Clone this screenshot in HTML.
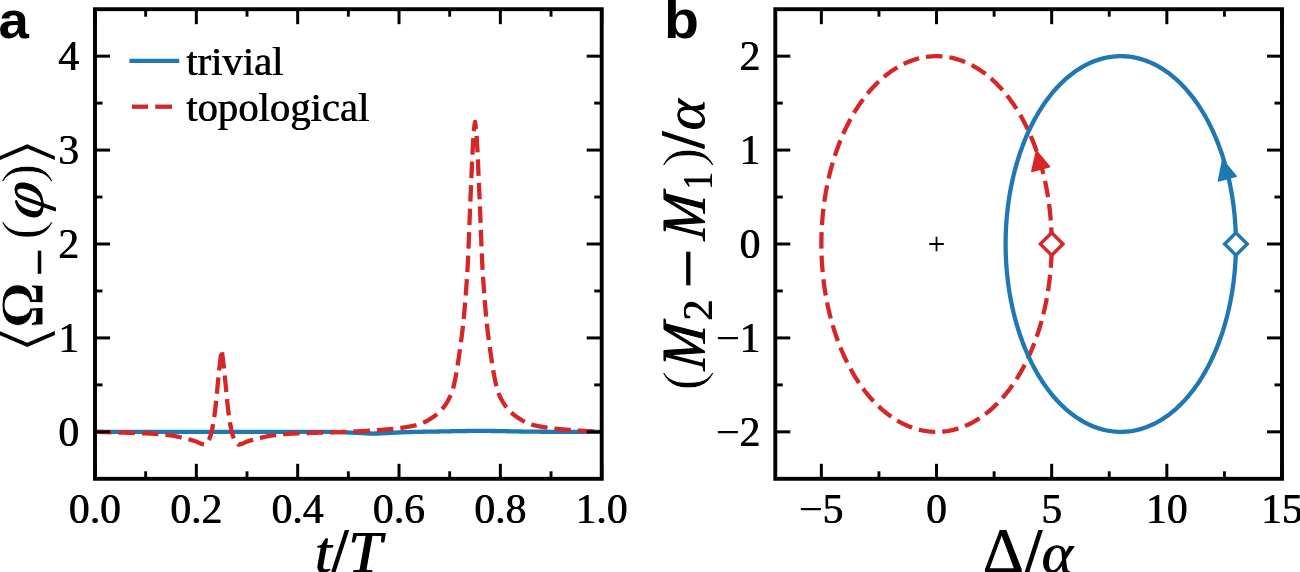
<!DOCTYPE html>
<html><head><meta charset="utf-8"><title>figure</title>
<style>html,body{margin:0;padding:0;background:#fff;overflow:hidden}svg{display:block;will-change:transform;opacity:0.999}text{fill:#000}</style>
</head><body>
<svg width="1300" height="572" viewBox="0 0 1300 572">
<rect width="1300" height="572" fill="#fff"/>
<defs><clipPath id="ca"><rect x="95.0" y="9.2" width="506.70000000000005" height="469.6"/></clipPath></defs>
<g clip-path="url(#ca)">
<path d="M95.00,431.84 L97.55,431.84 L100.09,431.84 L102.64,431.84 L105.18,431.84 L107.73,431.84 L110.28,431.84 L112.82,431.84 L115.37,431.84 L117.92,431.84 L120.46,431.84 L123.01,431.84 L125.55,431.84 L128.10,431.84 L130.65,431.84 L133.19,431.84 L135.74,431.84 L138.29,431.84 L140.83,431.84 L143.38,431.84 L145.92,431.84 L148.47,431.84 L151.02,431.84 L153.56,431.84 L156.11,431.84 L158.66,431.84 L161.20,431.84 L163.75,431.84 L166.29,431.84 L168.84,431.84 L171.39,431.84 L173.93,431.84 L176.48,431.84 L179.03,431.84 L181.57,431.84 L184.12,431.84 L186.66,431.84 L189.21,431.84 L191.76,431.84 L194.30,431.84 L196.85,431.84 L199.40,431.84 L201.94,431.84 L204.49,431.84 L207.03,431.84 L209.58,431.84 L212.13,431.84 L214.67,431.84 L217.22,431.84 L219.77,431.84 L222.31,431.84 L224.86,431.84 L227.40,431.84 L229.95,431.84 L232.50,431.84 L235.04,431.84 L237.59,431.84 L240.14,431.84 L242.68,431.84 L245.23,431.84 L247.77,431.84 L250.32,431.84 L252.87,431.84 L255.41,431.84 L257.96,431.84 L260.51,431.84 L263.05,431.84 L265.60,431.84 L268.14,431.84 L270.69,431.84 L273.24,431.84 L275.78,431.84 L278.33,431.84 L280.87,431.84 L283.42,431.84 L285.97,431.84 L288.51,431.84 L291.06,431.84 L293.61,431.84 L296.15,431.84 L298.70,431.84 L301.24,431.84 L303.79,431.84 L306.34,431.84 L308.88,431.84 L311.43,431.84 L313.98,431.85 L316.52,431.85 L319.07,431.86 L321.61,431.86 L324.16,431.88 L326.71,431.89 L329.25,431.92 L331.80,431.95 L334.35,431.99 L336.89,432.05 L339.44,432.11 L341.98,432.19 L344.53,432.29 L347.08,432.40 L349.62,432.53 L352.17,432.66 L354.72,432.81 L357.26,432.95 L359.81,433.09 L362.35,433.22 L364.90,433.34 L367.45,433.43 L369.99,433.49 L372.54,433.53 L375.09,433.52 L377.63,433.49 L380.18,433.42 L382.72,433.33 L385.27,433.21 L387.82,433.07 L390.36,432.93 L392.91,432.78 L395.46,432.64 L398.00,432.50 L400.55,432.37 L403.09,432.25 L405.64,432.15 L408.19,432.06 L410.73,431.99 L413.28,431.92 L415.83,431.87 L418.37,431.82 L420.92,431.78 L423.46,431.74 L426.01,431.71 L428.56,431.67 L431.10,431.63 L433.65,431.59 L436.19,431.55 L438.74,431.51 L441.29,431.47 L443.83,431.42 L446.38,431.37 L448.93,431.32 L451.47,431.27 L454.02,431.22 L456.56,431.17 L459.11,431.12 L461.66,431.08 L464.20,431.03 L466.75,431.00 L469.30,430.97 L471.84,430.94 L474.39,430.92 L476.93,430.91 L479.48,430.90 L482.03,430.90 L484.57,430.91 L487.12,430.93 L489.67,430.95 L492.21,430.98 L494.76,431.02 L497.30,431.06 L499.85,431.10 L502.40,431.15 L504.94,431.20 L507.49,431.25 L510.04,431.30 L512.58,431.35 L515.13,431.40 L517.67,431.44 L520.22,431.49 L522.77,431.53 L525.31,431.57 L527.86,431.61 L530.41,431.64 L532.95,431.67 L535.50,431.69 L538.04,431.72 L540.59,431.74 L543.14,431.76 L545.68,431.77 L548.23,431.78 L550.78,431.80 L553.32,431.80 L555.87,431.81 L558.41,431.82 L560.96,431.82 L563.51,431.83 L566.05,431.83 L568.60,431.83 L571.15,431.83 L573.69,431.84 L576.24,431.84 L578.78,431.84 L581.33,431.84 L583.88,431.84 L586.42,431.84 L588.97,431.84 L591.52,431.84 L594.06,431.84 L596.61,431.84 L599.15,431.84 L601.70,431.84" fill="none" stroke="#1f77b4" stroke-width="4.3" stroke-linejoin="round"/>
<path d="M95.00,431.84 L95.50,431.85 L96.00,431.86 L96.50,431.87 L97.00,431.89 L97.50,431.90 L98.00,431.91 L98.50,431.92 L99.01,431.94 L99.51,431.95 L100.01,431.96 L100.51,431.98 L101.01,431.99 L101.51,432.00 L102.01,432.02 L102.51,432.03 L103.01,432.04 L103.51,432.06 L104.01,432.07 L104.51,432.08 L105.01,432.10 L105.51,432.11 L106.02,432.12 L106.52,432.14 L107.02,432.15 L107.52,432.17 L108.02,432.18 L108.52,432.19 L109.02,432.21 L109.52,432.22 L110.02,432.24 L110.52,432.25 L111.02,432.27 L111.52,432.28 L112.02,432.30 L112.52,432.31 L113.02,432.33 L113.53,432.34 L114.03,432.36 L114.53,432.37 L115.03,432.39 L115.53,432.40 L116.03,432.42 L116.53,432.43 L117.03,432.45 L117.53,432.46 L118.03,432.48 L118.53,432.49 L119.03,432.51 L119.53,432.52 L120.03,432.54 L120.54,432.56 L121.04,432.57 L121.54,432.59 L122.04,432.60 L122.54,432.62 L123.04,432.63 L123.54,432.65 L124.04,432.67 L124.54,432.68 L125.04,432.70 L125.54,432.71 L126.04,432.73 L126.54,432.74 L127.04,432.76 L127.54,432.77 L128.05,432.79 L128.55,432.80 L129.05,432.82 L129.55,432.83 L130.05,432.85 L130.55,432.86 L131.05,432.88 L131.55,432.89 L132.05,432.91 L132.55,432.92 L133.05,432.94 L133.55,432.95 L134.05,432.97 L134.55,432.98 L135.06,433.00 L135.56,433.01 L136.06,433.03 L136.56,433.05 L137.06,433.06 L137.56,433.08 L138.06,433.10 L138.56,433.11 L139.06,433.13 L139.56,433.15 L140.06,433.17 L140.56,433.18 L141.06,433.20 L141.56,433.22 L142.07,433.24 L142.57,433.26 L143.07,433.28 L143.57,433.30 L144.07,433.32 L144.57,433.34 L145.07,433.36 L145.57,433.38 L146.07,433.40 L146.57,433.42 L147.07,433.44 L147.57,433.46 L148.07,433.49 L148.57,433.51 L149.07,433.53 L149.58,433.56 L150.08,433.58 L150.58,433.61 L151.08,433.63 L151.58,433.66 L152.08,433.69 L152.58,433.71 L153.08,433.74 L153.58,433.77 L154.08,433.80 L154.58,433.83 L155.08,433.86 L155.58,433.90 L156.08,433.93 L156.59,433.97 L157.09,434.00 L157.59,434.04 L158.09,434.08 L158.59,434.12 L159.09,434.16 L159.59,434.20 L160.09,434.25 L160.59,434.29 L161.09,434.34 L161.59,434.38 L162.09,434.43 L162.59,434.48 L163.09,434.53 L163.59,434.58 L164.10,434.63 L164.60,434.69 L165.10,434.74 L165.60,434.79 L166.10,434.85 L166.60,434.91 L167.10,434.97 L167.60,435.02 L168.10,435.08 L168.60,435.15 L169.10,435.21 L169.60,435.27 L170.10,435.33 L170.60,435.40 L171.11,435.47 L171.61,435.54 L172.11,435.61 L172.61,435.69 L173.11,435.78 L173.61,435.86 L174.11,435.95 L174.61,436.05 L175.11,436.14 L175.61,436.24 L176.11,436.34 L176.61,436.45 L177.11,436.55 L177.61,436.66 L178.11,436.77 L178.62,436.88 L179.12,436.99 L179.62,437.10 L180.12,437.22 L180.62,437.33 L181.12,437.45 L181.62,437.56 L182.12,437.68 L182.62,437.80 L183.12,437.91 L183.62,438.03 L184.12,438.14 L184.62,438.26 L185.12,438.38 L185.63,438.50 L186.13,438.62 L186.63,438.75 L187.13,438.87 L187.63,439.00 L188.13,439.13 L188.63,439.26 L189.13,439.40 L189.63,439.53 L190.13,439.67 L190.63,439.81 L191.13,439.95 L191.63,440.09 L192.13,440.24 L192.63,440.38 L193.14,440.53 L193.64,440.69 L194.14,440.84 L194.64,441.00 L195.14,441.17 L195.64,441.33 L196.14,441.51 L196.64,441.69 L197.14,441.88 L197.64,442.10 L198.14,442.33 L198.64,442.57 L199.14,442.82 L199.64,443.06 L200.15,443.29 L200.65,443.50 L201.15,443.69 L201.65,443.85 L202.15,444.00 L202.65,444.15 L203.15,444.29 L203.65,444.41 L204.15,444.49 L204.65,444.52 L205.15,444.42 L205.65,444.13 L206.15,443.70 L206.65,443.20 L207.15,442.66 L207.66,442.06 L208.16,441.29 L208.66,440.39 L209.16,439.36 L209.66,438.21 L210.16,436.86 L210.66,435.26 L211.16,433.43 L211.66,431.41 L212.16,429.21 L212.66,426.80 L213.16,424.04 L213.66,420.95 L214.16,417.56 L214.67,413.91 L215.17,410.04 L215.67,405.84 L216.17,400.94 L216.67,395.63 L217.17,390.29 L217.67,385.15 L218.17,379.92 L218.67,374.75 L219.17,369.84 L219.67,365.38 L220.17,361.28 L220.67,357.34 L221.17,353.44 L221.68,349.66 L222.18,353.44 L222.68,357.34 L223.18,361.28 L223.68,365.38 L224.18,369.84 L224.68,374.75 L225.18,379.92 L225.68,385.15 L226.18,390.29 L226.68,395.63 L227.18,400.94 L227.68,405.84 L228.18,410.04 L228.68,413.91 L229.19,417.56 L229.69,420.95 L230.19,424.04 L230.69,426.80 L231.19,429.21 L231.69,431.41 L232.19,433.43 L232.69,435.26 L233.19,436.86 L233.69,438.21 L234.19,439.36 L234.69,440.39 L235.19,441.29 L235.69,442.06 L236.20,442.66 L236.70,443.20 L237.20,443.70 L237.70,444.13 L238.20,444.42 L238.70,444.52 L239.20,444.49 L239.70,444.41 L240.20,444.29 L240.70,444.15 L241.20,444.00 L241.70,443.85 L242.20,443.69 L242.70,443.50 L243.20,443.29 L243.71,443.06 L244.21,442.82 L244.71,442.57 L245.21,442.33 L245.71,442.10 L246.21,441.88 L246.71,441.69 L247.21,441.51 L247.71,441.33 L248.21,441.17 L248.71,441.00 L249.21,440.84 L249.71,440.69 L250.21,440.53 L250.72,440.38 L251.22,440.24 L251.72,440.09 L252.22,439.95 L252.72,439.81 L253.22,439.67 L253.72,439.53 L254.22,439.40 L254.72,439.26 L255.22,439.13 L255.72,439.00 L256.22,438.87 L256.72,438.75 L257.22,438.62 L257.72,438.50 L258.23,438.38 L258.73,438.26 L259.23,438.14 L259.73,438.03 L260.23,437.91 L260.73,437.80 L261.23,437.68 L261.73,437.56 L262.23,437.45 L262.73,437.33 L263.23,437.22 L263.73,437.10 L264.23,436.99 L264.73,436.88 L265.24,436.77 L265.74,436.66 L266.24,436.55 L266.74,436.45 L267.24,436.34 L267.74,436.24 L268.24,436.14 L268.74,436.05 L269.24,435.95 L269.74,435.86 L270.24,435.78 L270.74,435.69 L271.24,435.61 L271.74,435.54 L272.24,435.47 L272.75,435.40 L273.25,435.33 L273.75,435.27 L274.25,435.21 L274.75,435.15 L275.25,435.08 L275.75,435.02 L276.25,434.97 L276.75,434.91 L277.25,434.85 L277.75,434.79 L278.25,434.74 L278.75,434.69 L279.25,434.63 L279.76,434.58 L280.26,434.53 L280.76,434.48 L281.26,434.43 L281.76,434.38 L282.26,434.34 L282.76,434.29 L283.26,434.25 L283.76,434.20 L284.26,434.16 L284.76,434.12 L285.26,434.08 L285.76,434.04 L286.26,434.00 L286.76,433.97 L287.27,433.93 L287.77,433.90 L288.27,433.86 L288.77,433.83 L289.27,433.80 L289.77,433.77 L290.27,433.74 L290.77,433.71 L291.27,433.69 L291.77,433.66 L292.27,433.63 L292.77,433.61 L293.27,433.58 L293.77,433.56 L294.28,433.53 L294.78,433.51 L295.28,433.49 L295.78,433.46 L296.28,433.44 L296.78,433.42 L297.28,433.40 L297.78,433.38 L298.28,433.36 L298.78,433.34 L299.28,433.32 L299.78,433.30 L300.28,433.28 L300.78,433.26 L301.28,433.24 L301.79,433.22 L302.29,433.20 L302.79,433.18 L303.29,433.17 L303.79,433.15 L304.29,433.13 L304.79,433.11 L305.29,433.10 L305.79,433.08 L306.29,433.06 L306.79,433.05 L307.29,433.03 L307.79,433.01 L308.29,433.00 L308.80,432.98 L309.30,432.97 L309.80,432.95 L310.30,432.94 L310.80,432.92 L311.30,432.91 L311.80,432.89 L312.30,432.88 L312.80,432.86 L313.30,432.85 L313.80,432.83 L314.30,432.82 L314.80,432.80 L315.30,432.79 L315.81,432.77 L316.31,432.76 L316.81,432.74 L317.31,432.73 L317.81,432.71 L318.31,432.70 L318.81,432.68 L319.31,432.67 L319.81,432.65 L320.31,432.63 L320.81,432.62 L321.31,432.60 L321.81,432.59 L322.31,432.57 L322.81,432.56 L323.32,432.54 L323.82,432.52 L324.32,432.51 L324.82,432.49 L325.32,432.48 L325.82,432.46 L326.32,432.45 L326.82,432.43 L327.32,432.42 L327.82,432.40 L328.32,432.39 L328.82,432.37 L329.32,432.36 L329.82,432.34 L330.33,432.33 L330.83,432.31 L331.33,432.30 L331.83,432.28 L332.33,432.27 L332.83,432.25 L333.33,432.24 L333.83,432.22 L334.33,432.21 L334.83,432.19 L335.33,432.18 L335.83,432.17 L336.33,432.15 L336.83,432.14 L337.33,432.12 L337.84,432.11 L338.34,432.10 L338.84,432.08 L339.34,432.07 L339.84,432.06 L340.34,432.04 L340.84,432.03 L341.34,432.02 L341.84,432.00 L342.34,431.99 L342.84,431.98 L343.34,431.96 L343.84,431.95 L344.34,431.94 L344.85,431.92 L345.35,431.91 L345.85,431.90 L346.35,431.89 L346.85,431.87 L347.35,431.86 L347.85,431.85 L348.35,431.84 L348.85,431.55 L349.35,431.55 L349.85,431.54 L350.35,431.53 L350.85,431.52 L351.35,431.51 L351.85,431.49 L352.36,431.48 L352.86,431.47 L353.36,431.45 L353.86,431.44 L354.36,431.42 L354.86,431.41 L355.36,431.39 L355.86,431.37 L356.36,431.36 L356.86,431.34 L357.36,431.32 L357.86,431.30 L358.36,431.28 L358.86,431.26 L359.37,431.23 L359.87,431.21 L360.37,431.19 L360.87,431.16 L361.37,431.14 L361.87,431.12 L362.37,431.09 L362.87,431.07 L363.37,431.04 L363.87,431.01 L364.37,430.99 L364.87,430.96 L365.37,430.93 L365.87,430.90 L366.37,430.87 L366.88,430.84 L367.38,430.81 L367.88,430.78 L368.38,430.75 L368.88,430.72 L369.38,430.69 L369.88,430.66 L370.38,430.63 L370.88,430.59 L371.38,430.56 L371.88,430.53 L372.38,430.50 L372.88,430.46 L373.38,430.43 L373.89,430.39 L374.39,430.36 L374.89,430.33 L375.39,430.29 L375.89,430.26 L376.39,430.22 L376.89,430.19 L377.39,430.15 L377.89,430.11 L378.39,430.08 L378.89,430.04 L379.39,430.01 L379.89,429.97 L380.39,429.93 L380.89,429.90 L381.40,429.86 L381.90,429.82 L382.40,429.79 L382.90,429.75 L383.40,429.71 L383.90,429.67 L384.40,429.63 L384.90,429.59 L385.40,429.55 L385.90,429.51 L386.40,429.46 L386.90,429.42 L387.40,429.38 L387.90,429.33 L388.41,429.29 L388.91,429.24 L389.41,429.20 L389.91,429.15 L390.41,429.10 L390.91,429.05 L391.41,429.00 L391.91,428.95 L392.41,428.90 L392.91,428.85 L393.41,428.80 L393.91,428.75 L394.41,428.69 L394.91,428.64 L395.42,428.58 L395.92,428.52 L396.42,428.47 L396.92,428.41 L397.42,428.35 L397.92,428.29 L398.42,428.22 L398.92,428.16 L399.42,428.10 L399.92,428.03 L400.42,427.96 L400.92,427.90 L401.42,427.83 L401.92,427.76 L402.42,427.69 L402.93,427.61 L403.43,427.54 L403.93,427.47 L404.43,427.39 L404.93,427.31 L405.43,427.23 L405.93,427.15 L406.43,427.07 L406.93,426.99 L407.43,426.91 L407.93,426.82 L408.43,426.73 L408.93,426.65 L409.43,426.56 L409.94,426.47 L410.44,426.37 L410.94,426.28 L411.44,426.18 L411.94,426.09 L412.44,425.99 L412.94,425.89 L413.44,425.79 L413.94,425.68 L414.44,425.58 L414.94,425.47 L415.44,425.36 L415.94,425.24 L416.44,425.12 L416.94,424.98 L417.45,424.84 L417.95,424.70 L418.45,424.54 L418.95,424.38 L419.45,424.21 L419.95,424.03 L420.45,423.85 L420.95,423.66 L421.45,423.46 L421.95,423.25 L422.45,423.04 L422.95,422.82 L423.45,422.60 L423.95,422.37 L424.46,422.13 L424.96,421.88 L425.46,421.63 L425.96,421.37 L426.46,421.11 L426.96,420.84 L427.46,420.56 L427.96,420.28 L428.46,419.99 L428.96,419.70 L429.46,419.40 L429.96,419.09 L430.46,418.78 L430.96,418.46 L431.46,418.14 L431.97,417.81 L432.47,417.48 L432.97,417.14 L433.47,416.79 L433.97,416.44 L434.47,416.09 L434.97,415.73 L435.47,415.36 L435.97,414.98 L436.47,414.59 L436.97,414.19 L437.47,413.78 L437.97,413.35 L438.47,412.91 L438.98,412.45 L439.48,411.98 L439.98,411.48 L440.48,410.98 L440.98,410.45 L441.48,409.90 L441.98,409.33 L442.48,408.74 L442.98,408.13 L443.48,407.49 L443.98,406.83 L444.48,406.15 L444.98,405.44 L445.48,404.70 L445.98,403.93 L446.49,403.14 L446.99,402.32 L447.49,401.46 L447.99,400.58 L448.49,399.66 L448.99,398.71 L449.49,397.73 L449.99,396.71 L450.49,395.66 L450.99,394.57 L451.49,393.40 L451.99,392.03 L452.49,390.48 L452.99,388.75 L453.50,386.83 L454.00,384.75 L454.50,382.51 L455.00,380.11 L455.50,377.56 L456.00,374.88 L456.50,372.06 L457.00,369.11 L457.50,366.04 L458.00,362.86 L458.50,359.58 L459.00,356.20 L459.50,352.72 L460.00,349.17 L460.50,345.53 L461.01,341.83 L461.51,338.06 L462.01,334.14 L462.51,329.93 L463.01,325.44 L463.51,320.63 L464.01,315.49 L464.51,310.01 L465.01,304.18 L465.51,297.98 L466.01,291.39 L466.51,284.40 L467.01,276.99 L467.51,269.01 L468.02,259.13 L468.52,247.56 L469.02,234.97 L469.52,221.99 L470.02,209.28 L470.52,197.48 L471.02,186.42 L471.52,174.88 L472.02,163.38 L472.52,152.51 L473.02,142.84 L473.52,134.95 L474.02,129.27 L474.52,124.93 L475.03,121.90 L475.53,124.93 L476.03,129.27 L476.53,134.95 L477.03,142.84 L477.53,152.51 L478.03,163.38 L478.53,174.88 L479.03,186.42 L479.53,197.48 L480.03,209.28 L480.53,221.99 L481.03,234.97 L481.53,247.56 L482.03,259.13 L482.54,269.01 L483.04,276.99 L483.54,284.40 L484.04,291.39 L484.54,297.98 L485.04,304.18 L485.54,310.01 L486.04,315.49 L486.54,320.63 L487.04,325.44 L487.54,329.93 L488.04,334.14 L488.54,338.06 L489.04,341.83 L489.55,345.53 L490.05,349.17 L490.55,352.72 L491.05,356.20 L491.55,359.58 L492.05,362.86 L492.55,366.04 L493.05,369.11 L493.55,372.06 L494.05,374.88 L494.55,377.56 L495.05,380.11 L495.55,382.51 L496.05,384.75 L496.55,386.83 L497.06,388.75 L497.56,390.48 L498.06,392.03 L498.56,393.40 L499.06,394.57 L499.56,395.66 L500.06,396.71 L500.56,397.73 L501.06,398.71 L501.56,399.66 L502.06,400.58 L502.56,401.46 L503.06,402.32 L503.56,403.14 L504.07,403.93 L504.57,404.70 L505.07,405.44 L505.57,406.15 L506.07,406.83 L506.57,407.49 L507.07,408.13 L507.57,408.74 L508.07,409.33 L508.57,409.90 L509.07,410.45 L509.57,410.98 L510.07,411.48 L510.57,411.98 L511.07,412.45 L511.58,412.91 L512.08,413.35 L512.58,413.78 L513.08,414.19 L513.58,414.59 L514.08,414.98 L514.58,415.36 L515.08,415.73 L515.58,416.09 L516.08,416.44 L516.58,416.79 L517.08,417.14 L517.58,417.48 L518.08,417.81 L518.59,418.14 L519.09,418.46 L519.59,418.78 L520.09,419.09 L520.59,419.40 L521.09,419.70 L521.59,419.99 L522.09,420.28 L522.59,420.56 L523.09,420.84 L523.59,421.11 L524.09,421.37 L524.59,421.63 L525.09,421.88 L525.59,422.13 L526.10,422.37 L526.60,422.60 L527.10,422.82 L527.60,423.04 L528.10,423.25 L528.60,423.46 L529.10,423.66 L529.60,423.85 L530.10,424.03 L530.60,424.21 L531.10,424.38 L531.60,424.54 L532.10,424.70 L532.60,424.84 L533.11,424.98 L533.61,425.12 L534.11,425.24 L534.61,425.36 L535.11,425.47 L535.61,425.58 L536.11,425.68 L536.61,425.79 L537.11,425.89 L537.61,425.99 L538.11,426.09 L538.61,426.18 L539.11,426.28 L539.61,426.37 L540.11,426.47 L540.62,426.56 L541.12,426.65 L541.62,426.73 L542.12,426.82 L542.62,426.91 L543.12,426.99 L543.62,427.07 L544.12,427.15 L544.62,427.23 L545.12,427.31 L545.62,427.39 L546.12,427.47 L546.62,427.54 L547.12,427.61 L547.63,427.69 L548.13,427.76 L548.63,427.83 L549.13,427.90 L549.63,427.96 L550.13,428.03 L550.63,428.10 L551.13,428.16 L551.63,428.22 L552.13,428.29 L552.63,428.35 L553.13,428.41 L553.63,428.47 L554.13,428.52 L554.63,428.58 L555.14,428.64 L555.64,428.69 L556.14,428.75 L556.64,428.80 L557.14,428.85 L557.64,428.90 L558.14,428.95 L558.64,429.00 L559.14,429.05 L559.64,429.10 L560.14,429.15 L560.64,429.20 L561.14,429.24 L561.64,429.29 L562.15,429.33 L562.65,429.38 L563.15,429.42 L563.65,429.46 L564.15,429.51 L564.65,429.55 L565.15,429.59 L565.65,429.63 L566.15,429.67 L566.65,429.71 L567.15,429.75 L567.65,429.79 L568.15,429.82 L568.65,429.86 L569.16,429.90 L569.66,429.93 L570.16,429.97 L570.66,430.01 L571.16,430.04 L571.66,430.08 L572.16,430.11 L572.66,430.15 L573.16,430.19 L573.66,430.22 L574.16,430.26 L574.66,430.29 L575.16,430.33 L575.66,430.36 L576.16,430.39 L576.67,430.43 L577.17,430.46 L577.67,430.50 L578.17,430.53 L578.67,430.56 L579.17,430.59 L579.67,430.63 L580.17,430.66 L580.67,430.69 L581.17,430.72 L581.67,430.75 L582.17,430.78 L582.67,430.81 L583.17,430.84 L583.68,430.87 L584.18,430.90 L584.68,430.93 L585.18,430.96 L585.68,430.99 L586.18,431.01 L586.68,431.04 L587.18,431.07 L587.68,431.09 L588.18,431.12 L588.68,431.14 L589.18,431.16 L589.68,431.19 L590.18,431.21 L590.68,431.23 L591.19,431.26 L591.69,431.28 L592.19,431.30 L592.69,431.32 L593.19,431.34 L593.69,431.36 L594.19,431.37 L594.69,431.39 L595.19,431.41 L595.69,431.42 L596.19,431.44 L596.69,431.45 L597.19,431.47 L597.69,431.48 L598.20,431.49 L598.70,431.51 L599.20,431.52 L599.70,431.53 L600.20,431.54 L600.70,431.55 L601.20,431.55 L601.70,431.84" fill="none" stroke="#d62728" stroke-width="4.3" stroke-dasharray="16.5 7.0" stroke-linejoin="round"/>
</g>
<line x1="95.00" y1="478.80" x2="95.00" y2="463.80" stroke="#000" stroke-width="3.0"/>
<line x1="95.00" y1="9.20" x2="95.00" y2="24.20" stroke="#000" stroke-width="3.0"/>
<line x1="196.34" y1="478.80" x2="196.34" y2="463.80" stroke="#000" stroke-width="3.0"/>
<line x1="196.34" y1="9.20" x2="196.34" y2="24.20" stroke="#000" stroke-width="3.0"/>
<line x1="297.68" y1="478.80" x2="297.68" y2="463.80" stroke="#000" stroke-width="3.0"/>
<line x1="297.68" y1="9.20" x2="297.68" y2="24.20" stroke="#000" stroke-width="3.0"/>
<line x1="399.02" y1="478.80" x2="399.02" y2="463.80" stroke="#000" stroke-width="3.0"/>
<line x1="399.02" y1="9.20" x2="399.02" y2="24.20" stroke="#000" stroke-width="3.0"/>
<line x1="500.36" y1="478.80" x2="500.36" y2="463.80" stroke="#000" stroke-width="3.0"/>
<line x1="500.36" y1="9.20" x2="500.36" y2="24.20" stroke="#000" stroke-width="3.0"/>
<line x1="601.70" y1="478.80" x2="601.70" y2="463.80" stroke="#000" stroke-width="3.0"/>
<line x1="601.70" y1="9.20" x2="601.70" y2="24.20" stroke="#000" stroke-width="3.0"/>
<line x1="145.67" y1="478.80" x2="145.67" y2="471.30" stroke="#000" stroke-width="2.9"/>
<line x1="145.67" y1="9.20" x2="145.67" y2="16.70" stroke="#000" stroke-width="2.9"/>
<line x1="247.01" y1="478.80" x2="247.01" y2="471.30" stroke="#000" stroke-width="2.9"/>
<line x1="247.01" y1="9.20" x2="247.01" y2="16.70" stroke="#000" stroke-width="2.9"/>
<line x1="348.35" y1="478.80" x2="348.35" y2="471.30" stroke="#000" stroke-width="2.9"/>
<line x1="348.35" y1="9.20" x2="348.35" y2="16.70" stroke="#000" stroke-width="2.9"/>
<line x1="449.69" y1="478.80" x2="449.69" y2="471.30" stroke="#000" stroke-width="2.9"/>
<line x1="449.69" y1="9.20" x2="449.69" y2="16.70" stroke="#000" stroke-width="2.9"/>
<line x1="551.03" y1="478.80" x2="551.03" y2="471.30" stroke="#000" stroke-width="2.9"/>
<line x1="551.03" y1="9.20" x2="551.03" y2="16.70" stroke="#000" stroke-width="2.9"/>
<line x1="95.00" y1="431.84" x2="110.00" y2="431.84" stroke="#000" stroke-width="3.0"/>
<line x1="601.70" y1="431.84" x2="586.70" y2="431.84" stroke="#000" stroke-width="3.0"/>
<line x1="95.00" y1="337.92" x2="110.00" y2="337.92" stroke="#000" stroke-width="3.0"/>
<line x1="601.70" y1="337.92" x2="586.70" y2="337.92" stroke="#000" stroke-width="3.0"/>
<line x1="95.00" y1="244.00" x2="110.00" y2="244.00" stroke="#000" stroke-width="3.0"/>
<line x1="601.70" y1="244.00" x2="586.70" y2="244.00" stroke="#000" stroke-width="3.0"/>
<line x1="95.00" y1="150.08" x2="110.00" y2="150.08" stroke="#000" stroke-width="3.0"/>
<line x1="601.70" y1="150.08" x2="586.70" y2="150.08" stroke="#000" stroke-width="3.0"/>
<line x1="95.00" y1="56.16" x2="110.00" y2="56.16" stroke="#000" stroke-width="3.0"/>
<line x1="601.70" y1="56.16" x2="586.70" y2="56.16" stroke="#000" stroke-width="3.0"/>
<line x1="95.00" y1="384.88" x2="102.50" y2="384.88" stroke="#000" stroke-width="2.9"/>
<line x1="601.70" y1="384.88" x2="594.20" y2="384.88" stroke="#000" stroke-width="2.9"/>
<line x1="95.00" y1="290.96" x2="102.50" y2="290.96" stroke="#000" stroke-width="2.9"/>
<line x1="601.70" y1="290.96" x2="594.20" y2="290.96" stroke="#000" stroke-width="2.9"/>
<line x1="95.00" y1="197.04" x2="102.50" y2="197.04" stroke="#000" stroke-width="2.9"/>
<line x1="601.70" y1="197.04" x2="594.20" y2="197.04" stroke="#000" stroke-width="2.9"/>
<line x1="95.00" y1="103.12" x2="102.50" y2="103.12" stroke="#000" stroke-width="2.9"/>
<line x1="601.70" y1="103.12" x2="594.20" y2="103.12" stroke="#000" stroke-width="2.9"/>
<rect x="95.00" y="9.20" width="506.70" height="469.60" fill="none" stroke="#000" stroke-width="3.9"/>
<g transform="translate(-0.38,0)"><text x="95.00" y="522.60" font-size="41.67" text-anchor="middle" font-family="'Liberation Serif', serif" >0.0</text></g><g transform="translate(0.38,0)"><text x="95.00" y="522.60" font-size="41.67" text-anchor="middle" font-family="'Liberation Serif', serif" >0.0</text></g>
<g transform="translate(-0.38,0)"><text x="196.34" y="522.60" font-size="41.67" text-anchor="middle" font-family="'Liberation Serif', serif" >0.2</text></g><g transform="translate(0.38,0)"><text x="196.34" y="522.60" font-size="41.67" text-anchor="middle" font-family="'Liberation Serif', serif" >0.2</text></g>
<g transform="translate(-0.38,0)"><text x="297.68" y="522.60" font-size="41.67" text-anchor="middle" font-family="'Liberation Serif', serif" >0.4</text></g><g transform="translate(0.38,0)"><text x="297.68" y="522.60" font-size="41.67" text-anchor="middle" font-family="'Liberation Serif', serif" >0.4</text></g>
<g transform="translate(-0.38,0)"><text x="399.02" y="522.60" font-size="41.67" text-anchor="middle" font-family="'Liberation Serif', serif" >0.6</text></g><g transform="translate(0.38,0)"><text x="399.02" y="522.60" font-size="41.67" text-anchor="middle" font-family="'Liberation Serif', serif" >0.6</text></g>
<g transform="translate(-0.38,0)"><text x="500.36" y="522.60" font-size="41.67" text-anchor="middle" font-family="'Liberation Serif', serif" >0.8</text></g><g transform="translate(0.38,0)"><text x="500.36" y="522.60" font-size="41.67" text-anchor="middle" font-family="'Liberation Serif', serif" >0.8</text></g>
<g transform="translate(-0.38,0)"><text x="601.70" y="522.60" font-size="41.67" text-anchor="middle" font-family="'Liberation Serif', serif" >1.0</text></g><g transform="translate(0.38,0)"><text x="601.70" y="522.60" font-size="41.67" text-anchor="middle" font-family="'Liberation Serif', serif" >1.0</text></g>
<g transform="translate(-0.38,0)"><text x="79.20" y="446.14" font-size="41.67" text-anchor="end" font-family="'Liberation Serif', serif" >0</text></g><g transform="translate(0.38,0)"><text x="79.20" y="446.14" font-size="41.67" text-anchor="end" font-family="'Liberation Serif', serif" >0</text></g>
<g transform="translate(-0.38,0)"><text x="79.20" y="352.22" font-size="41.67" text-anchor="end" font-family="'Liberation Serif', serif" >1</text></g><g transform="translate(0.38,0)"><text x="79.20" y="352.22" font-size="41.67" text-anchor="end" font-family="'Liberation Serif', serif" >1</text></g>
<g transform="translate(-0.38,0)"><text x="79.20" y="258.30" font-size="41.67" text-anchor="end" font-family="'Liberation Serif', serif" >2</text></g><g transform="translate(0.38,0)"><text x="79.20" y="258.30" font-size="41.67" text-anchor="end" font-family="'Liberation Serif', serif" >2</text></g>
<g transform="translate(-0.38,0)"><text x="79.20" y="164.38" font-size="41.67" text-anchor="end" font-family="'Liberation Serif', serif" >3</text></g><g transform="translate(0.38,0)"><text x="79.20" y="164.38" font-size="41.67" text-anchor="end" font-family="'Liberation Serif', serif" >3</text></g>
<g transform="translate(-0.38,0)"><text x="79.20" y="70.46" font-size="41.67" text-anchor="end" font-family="'Liberation Serif', serif" >4</text></g><g transform="translate(0.38,0)"><text x="79.20" y="70.46" font-size="41.67" text-anchor="end" font-family="'Liberation Serif', serif" >4</text></g>
<line x1="129.4" y1="60.8" x2="179.2" y2="60.8" stroke="#1f77b4" stroke-width="4.3"/>
<line x1="131.9" y1="106.7" x2="148.1" y2="106.7" stroke="#d62728" stroke-width="4.3"/>
<line x1="155.2" y1="106.7" x2="172.0" y2="106.7" stroke="#d62728" stroke-width="4.3"/>
<g transform="translate(-0.36,0)"><text x="186.30" y="74.70" font-size="40.7" text-anchor="start" font-family="'Liberation Serif', serif" >trivial</text></g><g transform="translate(0.36,0)"><text x="186.30" y="74.70" font-size="40.7" text-anchor="start" font-family="'Liberation Serif', serif" >trivial</text></g>
<g transform="translate(-0.36,0)"><text x="186.30" y="120.80" font-size="40.7" text-anchor="start" font-family="'Liberation Serif', serif" >topological</text></g><g transform="translate(0.36,0)"><text x="186.30" y="120.80" font-size="40.7" text-anchor="start" font-family="'Liberation Serif', serif" >topological</text></g>
<g transform="translate(-0.51,0)"><text x="315.0" y="572.0" font-size="60.0" font-style="italic" font-family="'Liberation Serif', serif">t</text></g><g transform="translate(0.51,0)"><text x="315.0" y="572.0" font-size="60.0" font-style="italic" font-family="'Liberation Serif', serif">t</text></g>
<g transform="translate(-0.81,0)"><text transform="translate(331.7,572.0) scale(1,1.04)" font-size="60.0" font-family="'Liberation Serif', serif">/</text></g><g transform="translate(0.00,0)"><text transform="translate(331.7,572.0) scale(1,1.04)" font-size="60.0" font-family="'Liberation Serif', serif">/</text></g><g transform="translate(0.81,0)"><text transform="translate(331.7,572.0) scale(1,1.04)" font-size="60.0" font-family="'Liberation Serif', serif">/</text></g>
<g transform="translate(-0.66,0)"><text x="348.4" y="572.0" font-size="60.0" font-style="italic" font-family="'Liberation Serif', serif">T</text></g><g transform="translate(0.00,0)"><text x="348.4" y="572.0" font-size="60.0" font-style="italic" font-family="'Liberation Serif', serif">T</text></g><g transform="translate(0.66,0)"><text x="348.4" y="572.0" font-size="60.0" font-style="italic" font-family="'Liberation Serif', serif">T</text></g>
<polygon points="54.9,331.05 54.9,335.0 27.3,346.9 -0.4,335.1 -0.4,331.1 27.3,342.7" fill="#000"/>
<polygon points="54.9,156.2 54.9,160.1 27.3,148.5 -0.4,160.1 -0.4,156.2 27.3,144.3" fill="#000"/>
<g transform="translate(42.00,328.00) rotate(-90)"><text transform="scale(0.953,1.033)" font-size="60.0" font-weight="bold" font-family="'Liberation Serif', serif" stroke="#fff" stroke-width="0.9">Ω</text></g>
<line x1="39.5" y1="273.8" x2="39.5" y2="250.7" stroke="#000" stroke-width="3.5"/>
<g transform="translate(44.00,239.80) rotate(-90)"><text transform="translate(0,-2.7) scale(1,0.934)" font-size="60.0" font-family="'Liberation Serif', serif" stroke="#fff" stroke-width="0.9">(</text></g>
<g transform="translate(42.70,220.80) rotate(-90)"><g transform="translate(-0.27,0)"><text transform="scale(1.11,1) skewX(-8)" font-size="60.0" font-style="italic" font-family="'Liberation Serif', serif">φ</text></g><g transform="translate(0.27,0)"><text transform="scale(1.11,1) skewX(-8)" font-size="60.0" font-style="italic" font-family="'Liberation Serif', serif">φ</text></g></g>
<g transform="translate(44.00,183.50) rotate(-90)"><text transform="translate(0,-2.7) scale(1,0.934)" font-size="60.0" font-family="'Liberation Serif', serif" stroke="#fff" stroke-width="0.9">)</text></g>
<text transform="translate(-1.6,38.2) scale(1.04,1.0)" font-size="52.5" font-weight="bold" font-family="'Liberation Sans', sans-serif">a</text>
<text transform="translate(664.0,38.0) scale(1.09,1.0)" font-size="52.5" font-weight="bold" font-family="'Liberation Sans', sans-serif">b</text>
<path d="M1051.68,244.00 L1051.67,241.04 L1051.62,238.09 L1051.55,235.13 L1051.45,232.18 L1051.33,229.23 L1051.17,226.28 L1050.98,223.34 L1050.77,220.40 L1050.53,217.47 L1050.26,214.54 L1049.96,211.62 L1049.63,208.72 L1049.28,205.81 L1048.89,202.92 L1048.48,200.04 L1048.05,197.17 L1047.58,194.31 L1047.09,191.47 L1046.57,188.63 L1046.02,185.81 L1045.44,183.01 L1044.84,180.22 L1044.21,177.44 L1043.55,174.69 L1042.87,171.95 L1042.16,169.22 L1041.43,166.52 L1040.67,163.83 L1039.88,161.17 L1039.07,158.52 L1038.23,155.90 L1037.37,153.30 L1036.48,150.72 L1035.57,148.17 L1034.63,145.63 L1033.67,143.13 L1032.68,140.64 L1031.67,138.19 L1030.64,135.76 L1029.58,133.35 L1028.50,130.97 L1027.40,128.63 L1026.27,126.31 L1025.13,124.02 L1023.96,121.75 L1022.77,119.52 L1021.55,117.32 L1020.32,115.16 L1019.07,113.02 L1017.79,110.92 L1016.50,108.84 L1015.18,106.81 L1013.85,104.80 L1012.49,102.84 L1011.12,100.90 L1009.73,99.00 L1008.32,97.14 L1006.90,95.31 L1005.45,93.53 L1003.99,91.77 L1002.51,90.06 L1001.02,88.38 L999.51,86.75 L997.98,85.15 L996.44,83.59 L994.89,82.07 L993.32,80.59 L991.73,79.15 L990.13,77.76 L988.52,76.40 L986.90,75.08 L985.26,73.81 L983.61,72.58 L981.95,71.39 L980.28,70.25 L978.60,69.14 L976.90,68.09 L975.20,67.07 L973.49,66.10 L971.76,65.17 L970.03,64.29 L968.29,63.45 L966.55,62.66 L964.79,61.91 L963.03,61.20 L961.26,60.55 L959.49,59.93 L957.71,59.37 L955.92,58.85 L954.13,58.37 L952.34,57.94 L950.54,57.56 L948.74,57.22 L946.94,56.93 L945.13,56.69 L943.32,56.49 L941.51,56.34 L939.70,56.23 L937.88,56.17 L936.07,56.16 L934.26,56.20 L932.44,56.28 L930.63,56.41 L928.82,56.58 L927.01,56.80 L925.21,57.07 L923.40,57.38 L921.60,57.74 L919.81,58.15 L918.02,58.60 L916.23,59.10 L914.45,59.64 L912.67,60.23 L910.90,60.87 L909.13,61.55 L907.37,62.28 L905.62,63.05 L903.88,63.86 L902.15,64.72 L900.42,65.63 L898.70,66.58 L896.99,67.57 L895.30,68.61 L893.61,69.69 L891.93,70.81 L890.26,71.98 L888.61,73.19 L886.97,74.44 L885.34,75.74 L883.72,77.07 L882.11,78.45 L880.52,79.87 L878.94,81.33 L877.38,82.82 L875.83,84.36 L874.30,85.94 L872.78,87.56 L871.28,89.22 L869.79,90.91 L868.32,92.65 L866.87,94.42 L865.43,96.22 L864.02,98.07 L862.62,99.95 L861.23,101.86 L859.87,103.82 L858.53,105.80 L857.20,107.82 L855.90,109.88 L854.61,111.96 L853.35,114.08 L852.11,116.24 L850.88,118.42 L849.68,120.64 L848.50,122.88 L847.34,125.16 L846.21,127.46 L845.09,129.80 L844.00,132.16 L842.93,134.55 L841.89,136.97 L840.87,139.41 L839.87,141.88 L838.89,144.38 L837.94,146.90 L837.02,149.44 L836.12,152.01 L835.24,154.60 L834.39,157.21 L833.57,159.84 L832.77,162.50 L831.99,165.17 L831.25,167.87 L830.52,170.58 L829.83,173.31 L829.16,176.06 L828.52,178.83 L827.90,181.61 L827.31,184.41 L826.75,187.22 L826.22,190.05 L825.71,192.89 L825.23,195.74 L824.78,198.61 L824.35,201.48 L823.96,204.37 L823.59,207.26 L823.25,210.17 L822.93,213.08 L822.65,216.00 L822.39,218.93 L822.17,221.87 L821.97,224.81 L821.80,227.75 L821.65,230.70 L821.54,233.65 L821.45,236.61 L821.40,239.56 L821.37,242.52 L821.37,245.48 L821.40,248.44 L821.45,251.39 L821.54,254.35 L821.65,257.30 L821.80,260.25 L821.97,263.19 L822.17,266.13 L822.39,269.07 L822.65,272.00 L822.93,274.92 L823.25,277.83 L823.59,280.74 L823.96,283.63 L824.35,286.52 L824.78,289.39 L825.23,292.26 L825.71,295.11 L826.22,297.95 L826.75,300.78 L827.31,303.59 L827.90,306.39 L828.52,309.17 L829.16,311.94 L829.83,314.69 L830.52,317.42 L831.25,320.13 L831.99,322.83 L832.77,325.50 L833.57,328.16 L834.39,330.79 L835.24,333.40 L836.12,335.99 L837.02,338.56 L837.94,341.10 L838.89,343.62 L839.87,346.12 L840.87,348.59 L841.89,351.03 L842.93,353.45 L844.00,355.84 L845.09,358.20 L846.21,360.54 L847.34,362.84 L848.50,365.12 L849.68,367.36 L850.88,369.58 L852.11,371.76 L853.35,373.92 L854.61,376.04 L855.90,378.12 L857.20,380.18 L858.53,382.20 L859.87,384.18 L861.23,386.14 L862.62,388.05 L864.02,389.93 L865.43,391.78 L866.87,393.58 L868.32,395.35 L869.79,397.09 L871.28,398.78 L872.78,400.44 L874.30,402.06 L875.83,403.64 L877.38,405.18 L878.94,406.67 L880.52,408.13 L882.11,409.55 L883.72,410.93 L885.34,412.26 L886.97,413.56 L888.61,414.81 L890.26,416.02 L891.93,417.19 L893.61,418.31 L895.30,419.39 L896.99,420.43 L898.70,421.42 L900.42,422.37 L902.15,423.28 L903.88,424.14 L905.62,424.95 L907.37,425.72 L909.13,426.45 L910.90,427.13 L912.67,427.77 L914.45,428.36 L916.23,428.90 L918.02,429.40 L919.81,429.85 L921.60,430.26 L923.40,430.62 L925.21,430.93 L927.01,431.20 L928.82,431.42 L930.63,431.59 L932.44,431.72 L934.26,431.80 L936.07,431.84 L937.88,431.83 L939.70,431.77 L941.51,431.66 L943.32,431.51 L945.13,431.31 L946.94,431.07 L948.74,430.78 L950.54,430.44 L952.34,430.06 L954.13,429.63 L955.92,429.15 L957.71,428.63 L959.49,428.07 L961.26,427.45 L963.03,426.80 L964.79,426.09 L966.55,425.34 L968.29,424.55 L970.03,423.71 L971.76,422.83 L973.49,421.90 L975.20,420.93 L976.90,419.91 L978.60,418.86 L980.28,417.75 L981.95,416.61 L983.61,415.42 L985.26,414.19 L986.90,412.92 L988.52,411.60 L990.13,410.24 L991.73,408.85 L993.32,407.41 L994.89,405.93 L996.44,404.41 L997.98,402.85 L999.51,401.25 L1001.02,399.62 L1002.51,397.94 L1003.99,396.23 L1005.45,394.47 L1006.90,392.69 L1008.32,390.86 L1009.73,389.00 L1011.12,387.10 L1012.49,385.16 L1013.85,383.20 L1015.18,381.19 L1016.50,379.16 L1017.79,377.08 L1019.07,374.98 L1020.32,372.84 L1021.55,370.68 L1022.77,368.48 L1023.96,366.25 L1025.13,363.98 L1026.27,361.69 L1027.40,359.37 L1028.50,357.03 L1029.58,354.65 L1030.64,352.24 L1031.67,349.81 L1032.68,347.36 L1033.67,344.87 L1034.63,342.37 L1035.57,339.83 L1036.48,337.28 L1037.37,334.70 L1038.23,332.10 L1039.07,329.48 L1039.88,326.83 L1040.67,324.17 L1041.43,321.48 L1042.16,318.78 L1042.87,316.05 L1043.55,313.31 L1044.21,310.56 L1044.84,307.78 L1045.44,304.99 L1046.02,302.19 L1046.57,299.37 L1047.09,296.53 L1047.58,293.69 L1048.05,290.83 L1048.48,287.96 L1048.89,285.08 L1049.28,282.19 L1049.63,279.28 L1049.96,276.38 L1050.26,273.46 L1050.53,270.53 L1050.77,267.60 L1050.98,264.66 L1051.17,261.72 L1051.33,258.77 L1051.45,255.82 L1051.55,252.87 L1051.62,249.91 L1051.67,246.96 L1051.68,244.00" fill="none" stroke="#d62728" stroke-width="4.3" stroke-dasharray="16.533 7.014"/>
<path d="M1235.94,244.00 L1235.92,241.04 L1235.88,238.09 L1235.81,235.13 L1235.71,232.18 L1235.58,229.23 L1235.42,226.28 L1235.24,223.34 L1235.02,220.40 L1234.78,217.47 L1234.51,214.54 L1234.21,211.62 L1233.89,208.72 L1233.53,205.81 L1233.15,202.92 L1232.74,200.04 L1232.30,197.17 L1231.83,194.31 L1231.34,191.47 L1230.82,188.63 L1230.27,185.81 L1229.70,183.01 L1229.09,180.22 L1228.47,177.44 L1227.81,174.69 L1227.13,171.95 L1226.42,169.22 L1225.68,166.52 L1224.92,163.83 L1224.14,161.17 L1223.32,158.52 L1222.49,155.90 L1221.62,153.30 L1220.73,150.72 L1219.82,148.17 L1218.88,145.63 L1217.92,143.13 L1216.94,140.64 L1215.93,138.19 L1214.89,135.76 L1213.84,133.35 L1212.76,130.97 L1211.65,128.63 L1210.53,126.31 L1209.38,124.02 L1208.21,121.75 L1207.02,119.52 L1205.81,117.32 L1204.58,115.16 L1203.32,113.02 L1202.05,110.92 L1200.75,108.84 L1199.44,106.81 L1198.10,104.80 L1196.75,102.84 L1195.38,100.90 L1193.99,99.00 L1192.58,97.14 L1191.15,95.31 L1189.71,93.53 L1188.25,91.77 L1186.77,90.06 L1185.27,88.38 L1183.76,86.75 L1182.24,85.15 L1180.70,83.59 L1179.14,82.07 L1177.57,80.59 L1175.99,79.15 L1174.39,77.76 L1172.78,76.40 L1171.15,75.08 L1169.51,73.81 L1167.87,72.58 L1166.20,71.39 L1164.53,70.25 L1162.85,69.14 L1161.16,68.09 L1159.45,67.07 L1157.74,66.10 L1156.02,65.17 L1154.29,64.29 L1152.55,63.45 L1150.80,62.66 L1149.05,61.91 L1147.29,61.20 L1145.52,60.55 L1143.74,59.93 L1141.96,59.37 L1140.18,58.85 L1138.39,58.37 L1136.59,57.94 L1134.80,57.56 L1133.00,57.22 L1131.19,56.93 L1129.38,56.69 L1127.57,56.49 L1125.76,56.34 L1123.95,56.23 L1122.14,56.17 L1120.32,56.16 L1118.51,56.20 L1116.70,56.28 L1114.89,56.41 L1113.08,56.58 L1111.27,56.80 L1109.46,57.07 L1107.66,57.38 L1105.86,57.74 L1104.06,58.15 L1102.27,58.60 L1100.48,59.10 L1098.70,59.64 L1096.92,60.23 L1095.15,60.87 L1093.39,61.55 L1091.63,62.28 L1089.88,63.05 L1088.14,63.86 L1086.40,64.72 L1084.67,65.63 L1082.96,66.58 L1081.25,67.57 L1079.55,68.61 L1077.86,69.69 L1076.18,70.81 L1074.52,71.98 L1072.86,73.19 L1071.22,74.44 L1069.59,75.74 L1067.97,77.07 L1066.37,78.45 L1064.78,79.87 L1063.20,81.33 L1061.63,82.82 L1060.09,84.36 L1058.55,85.94 L1057.03,87.56 L1055.53,89.22 L1054.05,90.91 L1052.58,92.65 L1051.12,94.42 L1049.69,96.22 L1048.27,98.07 L1046.87,99.95 L1045.49,101.86 L1044.13,103.82 L1042.78,105.80 L1041.46,107.82 L1040.15,109.88 L1038.87,111.96 L1037.60,114.08 L1036.36,116.24 L1035.14,118.42 L1033.94,120.64 L1032.75,122.88 L1031.60,125.16 L1030.46,127.46 L1029.35,129.80 L1028.26,132.16 L1027.19,134.55 L1026.14,136.97 L1025.12,139.41 L1024.12,141.88 L1023.15,144.38 L1022.20,146.90 L1021.27,149.44 L1020.37,152.01 L1019.50,154.60 L1018.65,157.21 L1017.82,159.84 L1017.02,162.50 L1016.25,165.17 L1015.50,167.87 L1014.78,170.58 L1014.08,173.31 L1013.41,176.06 L1012.77,178.83 L1012.16,181.61 L1011.57,184.41 L1011.01,187.22 L1010.47,190.05 L1009.96,192.89 L1009.48,195.74 L1009.03,198.61 L1008.61,201.48 L1008.21,204.37 L1007.84,207.26 L1007.50,210.17 L1007.19,213.08 L1006.90,216.00 L1006.65,218.93 L1006.42,221.87 L1006.22,224.81 L1006.05,227.75 L1005.91,230.70 L1005.79,233.65 L1005.71,236.61 L1005.65,239.56 L1005.62,242.52 L1005.62,245.48 L1005.65,248.44 L1005.71,251.39 L1005.79,254.35 L1005.91,257.30 L1006.05,260.25 L1006.22,263.19 L1006.42,266.13 L1006.65,269.07 L1006.90,272.00 L1007.19,274.92 L1007.50,277.83 L1007.84,280.74 L1008.21,283.63 L1008.61,286.52 L1009.03,289.39 L1009.48,292.26 L1009.96,295.11 L1010.47,297.95 L1011.01,300.78 L1011.57,303.59 L1012.16,306.39 L1012.77,309.17 L1013.41,311.94 L1014.08,314.69 L1014.78,317.42 L1015.50,320.13 L1016.25,322.83 L1017.02,325.50 L1017.82,328.16 L1018.65,330.79 L1019.50,333.40 L1020.37,335.99 L1021.27,338.56 L1022.20,341.10 L1023.15,343.62 L1024.12,346.12 L1025.12,348.59 L1026.14,351.03 L1027.19,353.45 L1028.26,355.84 L1029.35,358.20 L1030.46,360.54 L1031.60,362.84 L1032.75,365.12 L1033.94,367.36 L1035.14,369.58 L1036.36,371.76 L1037.60,373.92 L1038.87,376.04 L1040.15,378.12 L1041.46,380.18 L1042.78,382.20 L1044.13,384.18 L1045.49,386.14 L1046.87,388.05 L1048.27,389.93 L1049.69,391.78 L1051.12,393.58 L1052.58,395.35 L1054.05,397.09 L1055.53,398.78 L1057.03,400.44 L1058.55,402.06 L1060.09,403.64 L1061.63,405.18 L1063.20,406.67 L1064.78,408.13 L1066.37,409.55 L1067.97,410.93 L1069.59,412.26 L1071.22,413.56 L1072.86,414.81 L1074.52,416.02 L1076.18,417.19 L1077.86,418.31 L1079.55,419.39 L1081.25,420.43 L1082.96,421.42 L1084.67,422.37 L1086.40,423.28 L1088.14,424.14 L1089.88,424.95 L1091.63,425.72 L1093.39,426.45 L1095.15,427.13 L1096.92,427.77 L1098.70,428.36 L1100.48,428.90 L1102.27,429.40 L1104.06,429.85 L1105.86,430.26 L1107.66,430.62 L1109.46,430.93 L1111.27,431.20 L1113.08,431.42 L1114.89,431.59 L1116.70,431.72 L1118.51,431.80 L1120.32,431.84 L1122.14,431.83 L1123.95,431.77 L1125.76,431.66 L1127.57,431.51 L1129.38,431.31 L1131.19,431.07 L1133.00,430.78 L1134.80,430.44 L1136.59,430.06 L1138.39,429.63 L1140.18,429.15 L1141.96,428.63 L1143.74,428.07 L1145.52,427.45 L1147.29,426.80 L1149.05,426.09 L1150.80,425.34 L1152.55,424.55 L1154.29,423.71 L1156.02,422.83 L1157.74,421.90 L1159.45,420.93 L1161.16,419.91 L1162.85,418.86 L1164.53,417.75 L1166.20,416.61 L1167.87,415.42 L1169.51,414.19 L1171.15,412.92 L1172.78,411.60 L1174.39,410.24 L1175.99,408.85 L1177.57,407.41 L1179.14,405.93 L1180.70,404.41 L1182.24,402.85 L1183.76,401.25 L1185.27,399.62 L1186.77,397.94 L1188.25,396.23 L1189.71,394.47 L1191.15,392.69 L1192.58,390.86 L1193.99,389.00 L1195.38,387.10 L1196.75,385.16 L1198.10,383.20 L1199.44,381.19 L1200.75,379.16 L1202.05,377.08 L1203.32,374.98 L1204.58,372.84 L1205.81,370.68 L1207.02,368.48 L1208.21,366.25 L1209.38,363.98 L1210.53,361.69 L1211.65,359.37 L1212.76,357.03 L1213.84,354.65 L1214.89,352.24 L1215.93,349.81 L1216.94,347.36 L1217.92,344.87 L1218.88,342.37 L1219.82,339.83 L1220.73,337.28 L1221.62,334.70 L1222.49,332.10 L1223.32,329.48 L1224.14,326.83 L1224.92,324.17 L1225.68,321.48 L1226.42,318.78 L1227.13,316.05 L1227.81,313.31 L1228.47,310.56 L1229.09,307.78 L1229.70,304.99 L1230.27,302.19 L1230.82,299.37 L1231.34,296.53 L1231.83,293.69 L1232.30,290.83 L1232.74,287.96 L1233.15,285.08 L1233.53,282.19 L1233.89,279.28 L1234.21,276.38 L1234.51,273.46 L1234.78,270.53 L1235.02,267.60 L1235.24,264.66 L1235.42,261.72 L1235.58,258.77 L1235.71,255.82 L1235.81,252.87 L1235.88,249.91 L1235.92,246.96 L1235.94,244.00" fill="none" stroke="#1f77b4" stroke-width="4.3"/>
<polygon points="1036.5,151.0 1031.8,171.4 1049.6,166.7" fill="#d62728" stroke="#d62728" stroke-width="1.5" stroke-linejoin="round"/>
<polygon points="1222.6,159.9 1218.4,180.9 1236.2,176.2" fill="#1f77b4" stroke="#1f77b4" stroke-width="1.5" stroke-linejoin="round"/>
<polygon points="1051.68,232.70 1062.98,244.00 1051.68,255.30 1040.38,244.00" fill="#fff" stroke="#d62728" stroke-width="3.4" stroke-linejoin="miter"/>
<polygon points="1235.94,232.70 1247.24,244.00 1235.94,255.30 1224.64,244.00" fill="#fff" stroke="#1f77b4" stroke-width="3.4" stroke-linejoin="miter"/>
<path d="M929.22,244.00 H943.82 M936.52,236.70 V251.30" stroke="#000" stroke-width="1.8" fill="none"/>
<line x1="821.36" y1="478.80" x2="821.36" y2="463.80" stroke="#000" stroke-width="3.0"/>
<line x1="821.36" y1="9.20" x2="821.36" y2="24.20" stroke="#000" stroke-width="3.0"/>
<line x1="936.52" y1="478.80" x2="936.52" y2="463.80" stroke="#000" stroke-width="3.0"/>
<line x1="936.52" y1="9.20" x2="936.52" y2="24.20" stroke="#000" stroke-width="3.0"/>
<line x1="1051.68" y1="478.80" x2="1051.68" y2="463.80" stroke="#000" stroke-width="3.0"/>
<line x1="1051.68" y1="9.20" x2="1051.68" y2="24.20" stroke="#000" stroke-width="3.0"/>
<line x1="1166.84" y1="478.80" x2="1166.84" y2="463.80" stroke="#000" stroke-width="3.0"/>
<line x1="1166.84" y1="9.20" x2="1166.84" y2="24.20" stroke="#000" stroke-width="3.0"/>
<line x1="1282.00" y1="478.80" x2="1282.00" y2="463.80" stroke="#000" stroke-width="3.0"/>
<line x1="1282.00" y1="9.20" x2="1282.00" y2="24.20" stroke="#000" stroke-width="3.0"/>
<line x1="878.94" y1="478.80" x2="878.94" y2="471.30" stroke="#000" stroke-width="2.9"/>
<line x1="878.94" y1="9.20" x2="878.94" y2="16.70" stroke="#000" stroke-width="2.9"/>
<line x1="994.10" y1="478.80" x2="994.10" y2="471.30" stroke="#000" stroke-width="2.9"/>
<line x1="994.10" y1="9.20" x2="994.10" y2="16.70" stroke="#000" stroke-width="2.9"/>
<line x1="1109.26" y1="478.80" x2="1109.26" y2="471.30" stroke="#000" stroke-width="2.9"/>
<line x1="1109.26" y1="9.20" x2="1109.26" y2="16.70" stroke="#000" stroke-width="2.9"/>
<line x1="1224.42" y1="478.80" x2="1224.42" y2="471.30" stroke="#000" stroke-width="2.9"/>
<line x1="1224.42" y1="9.20" x2="1224.42" y2="16.70" stroke="#000" stroke-width="2.9"/>
<line x1="775.30" y1="431.84" x2="790.30" y2="431.84" stroke="#000" stroke-width="3.0"/>
<line x1="1282.00" y1="431.84" x2="1267.00" y2="431.84" stroke="#000" stroke-width="3.0"/>
<line x1="775.30" y1="337.92" x2="790.30" y2="337.92" stroke="#000" stroke-width="3.0"/>
<line x1="1282.00" y1="337.92" x2="1267.00" y2="337.92" stroke="#000" stroke-width="3.0"/>
<line x1="775.30" y1="244.00" x2="790.30" y2="244.00" stroke="#000" stroke-width="3.0"/>
<line x1="1282.00" y1="244.00" x2="1267.00" y2="244.00" stroke="#000" stroke-width="3.0"/>
<line x1="775.30" y1="150.08" x2="790.30" y2="150.08" stroke="#000" stroke-width="3.0"/>
<line x1="1282.00" y1="150.08" x2="1267.00" y2="150.08" stroke="#000" stroke-width="3.0"/>
<line x1="775.30" y1="56.16" x2="790.30" y2="56.16" stroke="#000" stroke-width="3.0"/>
<line x1="1282.00" y1="56.16" x2="1267.00" y2="56.16" stroke="#000" stroke-width="3.0"/>
<line x1="775.30" y1="384.88" x2="782.80" y2="384.88" stroke="#000" stroke-width="2.9"/>
<line x1="1282.00" y1="384.88" x2="1274.50" y2="384.88" stroke="#000" stroke-width="2.9"/>
<line x1="775.30" y1="290.96" x2="782.80" y2="290.96" stroke="#000" stroke-width="2.9"/>
<line x1="1282.00" y1="290.96" x2="1274.50" y2="290.96" stroke="#000" stroke-width="2.9"/>
<line x1="775.30" y1="197.04" x2="782.80" y2="197.04" stroke="#000" stroke-width="2.9"/>
<line x1="1282.00" y1="197.04" x2="1274.50" y2="197.04" stroke="#000" stroke-width="2.9"/>
<line x1="775.30" y1="103.12" x2="782.80" y2="103.12" stroke="#000" stroke-width="2.9"/>
<line x1="1282.00" y1="103.12" x2="1274.50" y2="103.12" stroke="#000" stroke-width="2.9"/>
<rect x="775.30" y="9.20" width="506.70" height="469.60" fill="none" stroke="#000" stroke-width="3.9"/>
<g transform="translate(-0.38,0)"><text x="821.36" y="522.60" font-size="41.67" text-anchor="middle" font-family="'Liberation Serif', serif" >−5</text></g><g transform="translate(0.38,0)"><text x="821.36" y="522.60" font-size="41.67" text-anchor="middle" font-family="'Liberation Serif', serif" >−5</text></g>
<g transform="translate(-0.38,0)"><text x="936.52" y="522.60" font-size="41.67" text-anchor="middle" font-family="'Liberation Serif', serif" >0</text></g><g transform="translate(0.38,0)"><text x="936.52" y="522.60" font-size="41.67" text-anchor="middle" font-family="'Liberation Serif', serif" >0</text></g>
<g transform="translate(-0.38,0)"><text x="1051.68" y="522.60" font-size="41.67" text-anchor="middle" font-family="'Liberation Serif', serif" >5</text></g><g transform="translate(0.38,0)"><text x="1051.68" y="522.60" font-size="41.67" text-anchor="middle" font-family="'Liberation Serif', serif" >5</text></g>
<g transform="translate(-0.38,0)"><text x="1166.84" y="522.60" font-size="41.67" text-anchor="middle" font-family="'Liberation Serif', serif" >10</text></g><g transform="translate(0.38,0)"><text x="1166.84" y="522.60" font-size="41.67" text-anchor="middle" font-family="'Liberation Serif', serif" >10</text></g>
<g transform="translate(-0.38,0)"><text x="1282.00" y="522.60" font-size="41.67" text-anchor="middle" font-family="'Liberation Serif', serif" >15</text></g><g transform="translate(0.38,0)"><text x="1282.00" y="522.60" font-size="41.67" text-anchor="middle" font-family="'Liberation Serif', serif" >15</text></g>
<g transform="translate(-0.38,0)"><text x="760.50" y="446.14" font-size="41.67" text-anchor="end" font-family="'Liberation Serif', serif" >−2</text></g><g transform="translate(0.38,0)"><text x="760.50" y="446.14" font-size="41.67" text-anchor="end" font-family="'Liberation Serif', serif" >−2</text></g>
<g transform="translate(-0.38,0)"><text x="760.50" y="352.22" font-size="41.67" text-anchor="end" font-family="'Liberation Serif', serif" >−1</text></g><g transform="translate(0.38,0)"><text x="760.50" y="352.22" font-size="41.67" text-anchor="end" font-family="'Liberation Serif', serif" >−1</text></g>
<g transform="translate(-0.38,0)"><text x="760.50" y="258.30" font-size="41.67" text-anchor="end" font-family="'Liberation Serif', serif" >0</text></g><g transform="translate(0.38,0)"><text x="760.50" y="258.30" font-size="41.67" text-anchor="end" font-family="'Liberation Serif', serif" >0</text></g>
<g transform="translate(-0.38,0)"><text x="760.50" y="164.38" font-size="41.67" text-anchor="end" font-family="'Liberation Serif', serif" >1</text></g><g transform="translate(0.38,0)"><text x="760.50" y="164.38" font-size="41.67" text-anchor="end" font-family="'Liberation Serif', serif" >1</text></g>
<g transform="translate(-0.38,0)"><text x="760.50" y="70.46" font-size="41.67" text-anchor="end" font-family="'Liberation Serif', serif" >2</text></g><g transform="translate(0.38,0)"><text x="760.50" y="70.46" font-size="41.67" text-anchor="end" font-family="'Liberation Serif', serif" >2</text></g>
<g transform="translate(-0.36,0)"><text transform="translate(982.9,572.0) scale(1.06,1.04)" font-size="60.0" font-family="'Liberation Serif', serif">Δ</text></g><g transform="translate(0.36,0)"><text transform="translate(982.9,572.0) scale(1.06,1.04)" font-size="60.0" font-family="'Liberation Serif', serif">Δ</text></g>
<g transform="translate(-0.90,0)"><text transform="translate(1025.3,572.0) scale(1,1.04)" font-size="60.0" font-family="'Liberation Serif', serif">/</text></g><g transform="translate(0.00,0)"><text transform="translate(1025.3,572.0) scale(1,1.04)" font-size="60.0" font-family="'Liberation Serif', serif">/</text></g><g transform="translate(0.90,0)"><text transform="translate(1025.3,572.0) scale(1,1.04)" font-size="60.0" font-family="'Liberation Serif', serif">/</text></g>
<g transform="translate(-0.36,0)"><text transform="translate(1041.7,572.0) scale(1,0.96)" font-size="60.0" font-style="italic" font-family="'Liberation Serif', serif">α</text></g><g transform="translate(0.36,0)"><text transform="translate(1041.7,572.0) scale(1,0.96)" font-size="60.0" font-style="italic" font-family="'Liberation Serif', serif">α</text></g>
<g transform="translate(704.50,390.50) rotate(-90)"><text transform="translate(0,-2.7) scale(1,0.934)" font-size="60.0" font-family="'Liberation Serif', serif" stroke="#fff" stroke-width="0.9">(</text></g>
<g transform="translate(704.50,370.50) rotate(-90)"><g transform="translate(-0.60,0)"><text transform="scale(0.90,1.05) skewX(-7)" font-size="60.0" font-style="italic" font-family="'Liberation Serif', serif">M</text></g><g transform="translate(0.00,0)"><text transform="scale(0.90,1.05) skewX(-7)" font-size="60.0" font-style="italic" font-family="'Liberation Serif', serif">M</text></g><g transform="translate(0.60,0)"><text transform="scale(0.90,1.05) skewX(-7)" font-size="60.0" font-style="italic" font-family="'Liberation Serif', serif">M</text></g></g>
<g transform="translate(711.50,320.50) rotate(-90)"><g transform="translate(-0.38,0)"><text font-size="42.0" font-family="'Liberation Serif', serif">2</text></g><g transform="translate(0.38,0)"><text font-size="42.0" font-family="'Liberation Serif', serif">2</text></g></g>
<line x1="688.3" y1="285.3" x2="688.3" y2="251.7" stroke="#000" stroke-width="4.3"/>
<g transform="translate(704.50,240.50) rotate(-90)"><g transform="translate(-0.60,0)"><text transform="scale(0.90,1.05) skewX(-7)" font-size="60.0" font-style="italic" font-family="'Liberation Serif', serif">M</text></g><g transform="translate(0.00,0)"><text transform="scale(0.90,1.05) skewX(-7)" font-size="60.0" font-style="italic" font-family="'Liberation Serif', serif">M</text></g><g transform="translate(0.60,0)"><text transform="scale(0.90,1.05) skewX(-7)" font-size="60.0" font-style="italic" font-family="'Liberation Serif', serif">M</text></g></g>
<g transform="translate(711.50,189.60) rotate(-90)"><g transform="translate(-0.38,0)"><text transform="scale(0.84,1)" font-size="42.0" font-family="'Liberation Serif', serif">1</text></g><g transform="translate(0.38,0)"><text transform="scale(0.84,1)" font-size="42.0" font-family="'Liberation Serif', serif">1</text></g></g>
<g transform="translate(704.50,167.50) rotate(-90)"><text transform="translate(0,-2.7) scale(1,0.934)" font-size="60.0" font-family="'Liberation Serif', serif" stroke="#fff" stroke-width="0.9">)</text></g>
<g transform="translate(704.00,148.30) rotate(-90)"><g transform="translate(-0.90,0)"><text transform="scale(1,1.05)" font-size="60.0" font-family="'Liberation Serif', serif">/</text></g><g transform="translate(0.00,0)"><text transform="scale(1,1.05)" font-size="60.0" font-family="'Liberation Serif', serif">/</text></g><g transform="translate(0.90,0)"><text transform="scale(1,1.05)" font-size="60.0" font-family="'Liberation Serif', serif">/</text></g></g>
<g transform="translate(703.80,130.50) rotate(-90)"><g transform="translate(-0.36,0)"><text transform="scale(1,0.95)" font-size="60.0" font-style="italic" font-family="'Liberation Serif', serif">α</text></g><g transform="translate(0.36,0)"><text transform="scale(1,0.95)" font-size="60.0" font-style="italic" font-family="'Liberation Serif', serif">α</text></g></g>
</svg>
</body></html>
